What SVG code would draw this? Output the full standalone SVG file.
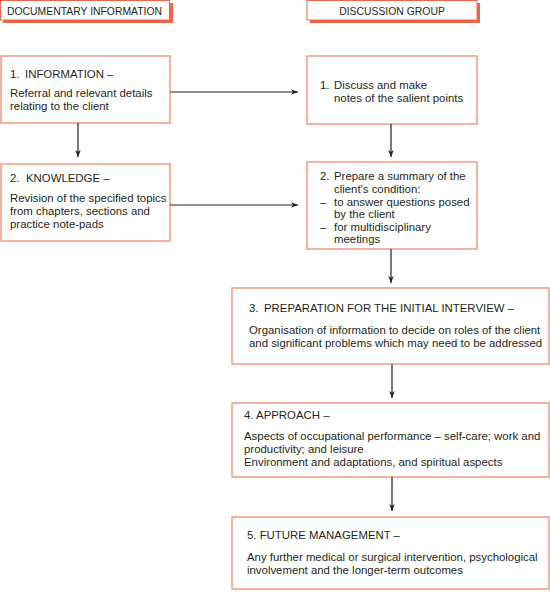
<svg xmlns="http://www.w3.org/2000/svg" width="550" height="592" viewBox="0 0 550 592">
<defs>
<style>
text{font-family:"Liberation Sans",Arial,sans-serif;font-size:11.4px;fill:#231f20}
.hd{font-size:10.4px}
.box{fill:#fff;stroke:#f08a6e;stroke-width:1.3}
.shadow{fill:#ef6448}
.hbox{fill:#fff;stroke:#ef6448;stroke-width:1}
.conn{stroke:#231f20;stroke-width:1.2;fill:none}
</style>
<marker id="ah" viewBox="0 0 10 10" refX="10" refY="5" markerWidth="7" markerHeight="7" orient="auto" markerUnits="userSpaceOnUse">
<path d="M0,1 L10,5 L0,9 L3,5 Z" fill="#231f20"/>
</marker>
</defs>
<g id="header-documentary">
<rect class="shadow" x="3" y="3" width="170" height="20"/>
<rect class="hbox" x="0.5" y="0.5" width="169" height="19.5"/>
<text class="hd" x="7" y="15">DOCUMENTARY INFORMATION</text>
</g>
<g id="header-discussion">
<rect class="shadow" x="310" y="3" width="170" height="20"/>
<rect class="hbox" x="307" y="0.5" width="170" height="19.5"/>
<text class="hd" x="392" y="15" text-anchor="middle">DISCUSSION GROUP</text>
</g>
<g id="info">
<rect class="box" x="1" y="56" width="169" height="67"/>
<text x="10" y="78">1.</text>
<text x="25" y="78">INFORMATION –</text>
<text x="10" y="97">Referral and relevant details</text>
<text x="10" y="110">relating to the client</text>
</g>
<g id="discuss">
<rect class="box" x="307" y="56" width="170" height="68"/>
<text x="320" y="89">1.</text>
<text x="334" y="89">Discuss and make</text>
<text x="334" y="102">notes of the salient points</text>
</g>
<g id="knowledge">
<rect class="box" x="1" y="164" width="169" height="77"/>
<text x="10" y="182">2.</text>
<text x="26" y="182">KNOWLEDGE –</text>
<text x="10" y="202">Revision of the specified topics</text>
<text x="10" y="215">from chapters, sections and</text>
<text x="10" y="228">practice note-pads</text>
</g>
<g id="summary">
<rect class="box" x="307" y="162" width="170" height="87"/>
<text x="320" y="180">2.</text>
<text x="334" y="180">Prepare a summary of the</text>
<text x="334" y="193">client's condition:</text>
<text x="320" y="206">–</text>
<text x="334" y="206">to answer questions posed</text>
<text x="334" y="218">by the client</text>
<text x="320" y="231">–</text>
<text x="334" y="231">for multidisciplinary</text>
<text x="334" y="243">meetings</text>
</g>
<g id="preparation">
<rect class="box" x="232" y="288" width="317" height="76"/>
<text x="249" y="312">3.</text>
<text x="264" y="312">PREPARATION FOR THE INITIAL INTERVIEW –</text>
<text x="249" y="334">Organisation of information to decide on roles of the client</text>
<text x="249" y="347">and significant problems which may need to be addressed</text>
</g>
<g id="approach">
<rect class="box" x="232" y="403" width="317" height="74"/>
<text x="244" y="419">4. APPROACH –</text>
<text x="244" y="440">Aspects of occupational performance – self-care; work and</text>
<text x="244" y="453">productivity; and leisure</text>
<text x="244" y="466">Environment and adaptations, and spiritual aspects</text>
</g>
<g id="future">
<rect class="box" x="232" y="517" width="317" height="72"/>
<text x="247" y="539">5. FUTURE MANAGEMENT –</text>
<text x="247" y="561">Any further medical or surgical intervention, psychological</text>
<text x="247" y="574">involvement and the longer-term outcomes</text>
</g>
<g id="connectors">
<line class="conn" x1="170" y1="92" x2="298" y2="92" marker-end="url(#ah)"/>
<line class="conn" x1="78" y1="123" x2="78" y2="157" marker-end="url(#ah)"/>
<line class="conn" x1="170" y1="205" x2="298" y2="205" marker-end="url(#ah)"/>
<line class="conn" x1="391" y1="124" x2="391" y2="157" marker-end="url(#ah)"/>
<line class="conn" x1="391" y1="249" x2="391" y2="283" marker-end="url(#ah)"/>
<line class="conn" x1="392" y1="364" x2="392" y2="398" marker-end="url(#ah)"/>
<line class="conn" x1="392" y1="477" x2="392" y2="511" marker-end="url(#ah)"/>
</g>
</svg>
